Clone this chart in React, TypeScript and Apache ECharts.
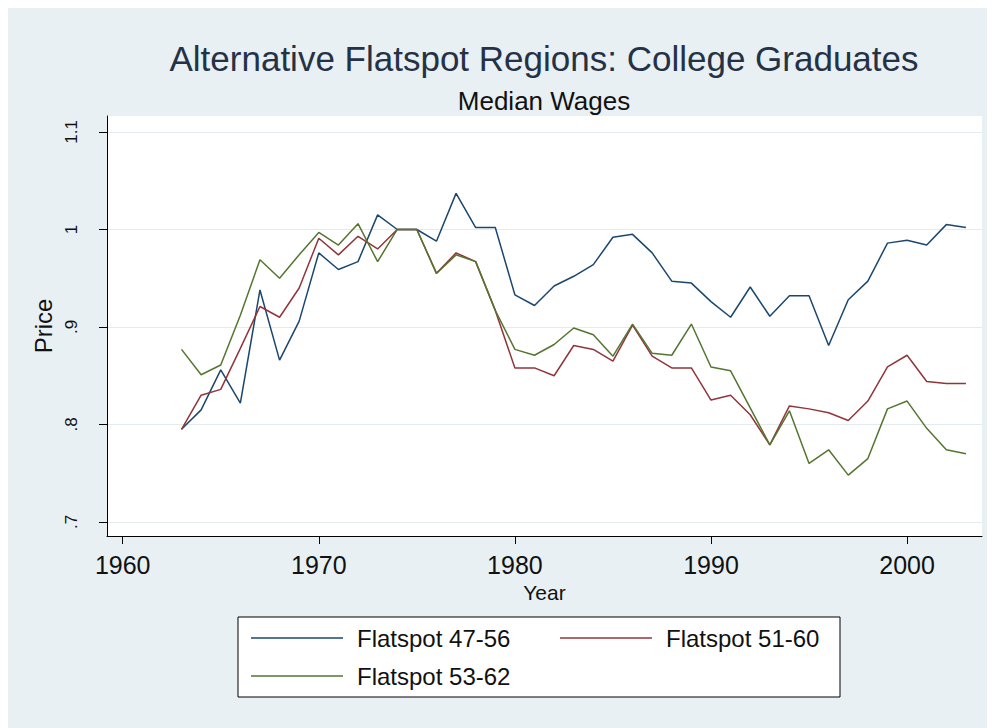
import React, { useEffect, useRef } from 'react';
import * as echarts from 'echarts';

const years = [
  1963, 1964, 1965, 1966, 1967, 1968, 1969, 1970, 1971, 1972, 1973, 1974, 1975, 1976,
  1977, 1978, 1979, 1980, 1981, 1982, 1983, 1984, 1985, 1986, 1987, 1988, 1989, 1990,
  1991, 1992, 1993, 1994, 1995, 1996, 1997, 1998, 1999, 2000, 2001, 2002, 2003,
];

const flatspot4756 = [
  0.795, 0.815, 0.856, 0.822, 0.938, 0.866, 0.906, 0.976, 0.959, 0.967, 1.015, 1.0, 1.0, 0.988,
  1.037, 1.002, 1.002, 0.933, 0.922, 0.942, 0.952, 0.964, 0.992, 0.995, 0.976, 0.947, 0.945, 0.926,
  0.91, 0.941, 0.911, 0.932, 0.932, 0.881, 0.928, 0.947, 0.986, 0.989, 0.984, 1.005, 1.002,
];

const flatspot5160 = [
  0.795, 0.83, 0.836, 0.878, 0.921, 0.91, 0.94, 0.991, 0.974, 0.993, 0.98, 1.0, 1.0, 0.955,
  0.976, 0.967, 0.917, 0.858, 0.858, 0.85, 0.881, 0.877, 0.865, 0.902, 0.87, 0.858, 0.858, 0.825,
  0.83, 0.81, 0.779, 0.819, 0.816, 0.812, 0.804, 0.824, 0.859, 0.871, 0.844, 0.842, 0.842,
];

const flatspot5362 = [
  0.877, 0.851, 0.861, 0.912, 0.969, 0.95, 0.974, 0.997, 0.984, 1.006, 0.967, 1.0, 1.0, 0.955,
  0.974, 0.967, 0.917, 0.877, 0.871, 0.882, 0.899, 0.892, 0.87, 0.903, 0.873, 0.871, 0.903, 0.859,
  0.855, 0.817, 0.779, 0.814, 0.76, 0.774, 0.748, 0.765, 0.816, 0.824, 0.796, 0.774, 0.77,
];

const seriesNames = ['Flatspot 47-56', 'Flatspot 51-60', 'Flatspot 53-62'];
const seriesColors = ['#1a476f', '#90353b', '#55752f'];
const xTickValues = [1960, 1970, 1980, 1990, 2000];
const yTickValues = [0.7, 0.8, 0.9, 1.0, 1.1];
const yTickLabels = ['.7', '.8', '.9', '1', '1.1'];
const titleText = 'Alternative Flatspot Regions: College Graduates';
const subtitleText = 'Median Wages';
const xAxisTitle = 'Year';
const yAxisTitle = 'Price';

const FONT = "'Liberation Sans', Arial, sans-serif";

export default function App() {
  const ref = useRef<HTMLDivElement>(null);

  useEffect(() => {
    if (!ref.current) return;
    const chart = echarts.init(ref.current, undefined, { renderer: 'svg' });
    const seriesData = [flatspot4756, flatspot5160, flatspot5362];
    const legendPos = [
      { left: 243, top: 618 },
      { left: 552, top: 618 },
      { left: 243, top: 656 },
    ];
    const option: any = {
      animation: false,
      backgroundColor: '#e8f0f3',
      textStyle: { fontFamily: FONT },
      title: [
        {
          text: titleText,
          left: 531,
          top: 28,
          textAlign: 'center',
          textStyle: { fontSize: 35, fontWeight: 'normal', color: '#253246', fontFamily: FONT },
        },
        {
          text: subtitleText,
          left: 531,
          top: 75,
          textAlign: 'center',
          textStyle: { fontSize: 26, fontWeight: 'normal', color: '#111', fontFamily: FONT },
        },
      ],
      graphic: [
        {
          type: 'rect',
          shape: { x: 230, y: 609, width: 602, height: 80 },
          style: { fill: '#ffffff', stroke: '#000000', lineWidth: 1 },
          z: 0,
        },
      ],
      grid: {
        left: 99,
        top: 108,
        width: 875,
        height: 420,
        show: true,
        backgroundColor: '#ffffff',
        borderWidth: 0,
      },
      xAxis: {
        type: 'value',
        min: 1959.2,
        max: 2003.82,
        name: xAxisTitle,
        nameLocation: 'middle',
        nameGap: 42,
        nameTextStyle: { fontSize: 21, color: '#111', fontFamily: FONT },
        axisLine: { show: true, onZero: false, lineStyle: { color: '#000', width: 1 } },
        axisTick: { show: true, customValues: xTickValues, length: 8, lineStyle: { color: '#000', width: 1 } },
        axisLabel: {
          customValues: xTickValues,
          fontSize: 25,
          color: '#111',
          margin: 16,
          fontFamily: FONT,
          formatter: (v: number) => String(Math.round(v)),
        },
        splitLine: { show: false },
      },
      yAxis: {
        type: 'value',
        min: 0.6856,
        max: 1.1164,
        name: yAxisTitle,
        nameLocation: 'middle',
        nameGap: 48,
        nameTextStyle: { fontSize: 24, color: '#111', fontFamily: FONT },
        axisLine: { show: true, onZero: false, lineStyle: { color: '#000', width: 1 } },
        axisTick: { show: true, customValues: yTickValues, length: 8, lineStyle: { color: '#000', width: 1 } },
        axisLabel: {
          customValues: yTickValues,
          rotate: 90,
          fontSize: 17,
          color: '#111',
          margin: 27,
          fontFamily: FONT,
          formatter: (v: number) => {
            const i = yTickValues.findIndex((t) => Math.abs(t - v) < 1e-6);
            return i >= 0 ? yTickLabels[i] : '';
          },
        },
        splitLine: { show: true, lineStyle: { color: '#e3ebee', width: 1 } },
      },
      legend: seriesNames.map((name, i) => ({
        data: [name],
        left: legendPos[i].left,
        top: legendPos[i].top,
        orient: 'horizontal',
        icon: 'rect',
        itemWidth: 92,
        itemHeight: 1.5,
        padding: 0,
        selectedMode: false,
        textStyle: { fontSize: 24, color: '#111', fontFamily: FONT, padding: [0, 0, 0, 9] },
      })),
      series: seriesNames.map((name, i) => ({
        type: 'line',
        name,
        data: years.map((y, j) => [y, seriesData[i][j]]),
        symbol: 'none',
        showSymbol: false,
        lineStyle: { width: 1.5, color: seriesColors[i] },
        itemStyle: { color: seriesColors[i] },
      })),
    };
    chart.setOption(option);
    return () => chart.dispose();
  }, []);

  return <div ref={ref} style={{ width: 987, height: 720 }} />;
}
